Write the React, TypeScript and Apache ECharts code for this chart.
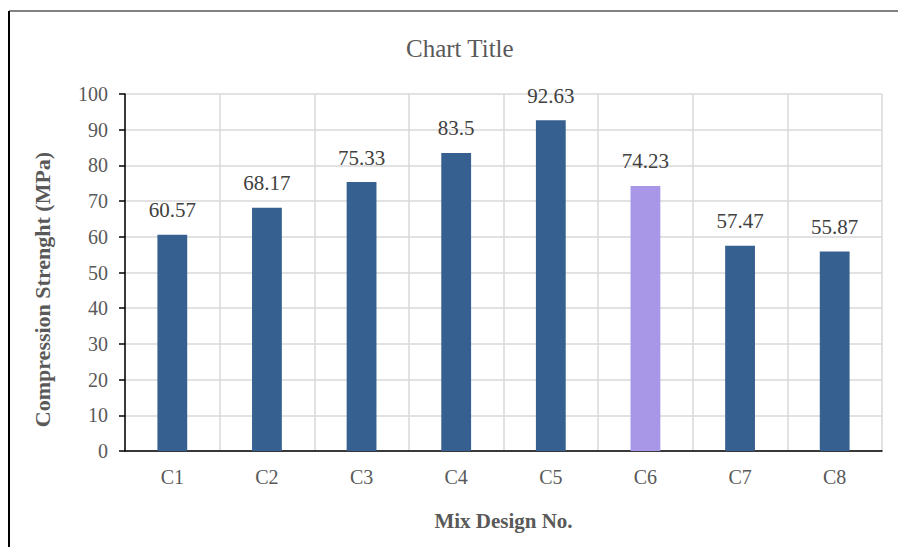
import React, { useEffect, useRef } from "react";
import * as echarts from "echarts";

const categories = ["C1", "C2", "C3", "C4", "C5", "C6", "C7", "C8"];
const strengths = [60.57, 68.17, 75.33, 83.5, 92.63, 74.23, 57.47, 55.87];
const yTicks = { min: 0, max: 100, interval: 10 };
const highlightCategory = "C6";

const FONT = "Liberation Serif";

export default function App() {
  const ref = useRef<HTMLDivElement>(null);
  useEffect(() => {
    if (!ref.current) return;
    const chart = echarts.init(ref.current, undefined, { renderer: "svg" });
    const data = strengths.map((v, i) => ({
      value: v,
      itemStyle: { color: categories[i] === highlightCategory ? "#a797e6" : "#35608f" },
    }));
    chart.setOption({
      animation: false,
      backgroundColor: "#ffffff",
      title: {
        text: "Chart Title",
        left: 401,
        top: 31,
        textStyle: { fontFamily: FONT, fontSize: 25, fontWeight: "normal", color: "#595959" },
      },
      grid: { left: 125, right: 16, top: 94, bottom: 96, containLabel: false },
      xAxis: {
        type: "category",
        data: categories,
        name: "Mix Design No.",
        nameLocation: "middle",
        nameGap: 59,
        nameTextStyle: { fontFamily: FONT, fontSize: 21, fontWeight: "bold", color: "#595959" },
        axisLine: { show: true, lineStyle: { color: "#000000", width: 1.5 } },
        axisTick: { show: false },
        axisLabel: { fontFamily: FONT, fontSize: 20, color: "#595959", margin: 16 },
        splitLine: { show: true, interval: 0, lineStyle: { color: "#d9d9d9", width: 1.5 } },
      },
      yAxis: {
        type: "value",
        min: yTicks.min,
        max: yTicks.max,
        interval: yTicks.interval,
        name: "Compression Strenght (MPa)",
        nameLocation: "middle",
        nameGap: 72,
        nameTextStyle: {
          fontFamily: FONT,
          fontSize: 22,
          fontWeight: "bold",
          color: "#595959",
          padding: [0, 34, 0, 0],
        },
        axisLine: { show: true, lineStyle: { color: "#000000", width: 1.5 } },
        axisTick: { show: true, length: 6, lineStyle: { color: "#000000", width: 1.5 } },
        axisLabel: { fontFamily: FONT, fontSize: 20, color: "#595959", margin: 17 },
        splitLine: { show: true, lineStyle: { color: "#d9d9d9", width: 1.5 } },
      },
      series: [
        {
          type: "bar",
          data,
          barWidth: "31.5%",
          label: {
            show: true,
            position: "top",
            distance: 14,
            fontFamily: FONT,
            fontSize: 21,
            color: "#404040",
          },
        },
      ],
      graphic: [
        { type: "line", shape: { x1: 9, y1: 11, x2: 898, y2: 11 }, style: { stroke: "#595959", lineWidth: 1.5 } },
        { type: "line", shape: { x1: 9, y1: 11, x2: 9, y2: 547 }, style: { stroke: "#000000", lineWidth: 2 } },
      ],
    });
    return () => chart.dispose();
  }, []);
  return (
    <div
      ref={ref}
      style={{ position: "absolute", left: 0, top: 0, width: 898, height: 547 }}
    />
  );
}
